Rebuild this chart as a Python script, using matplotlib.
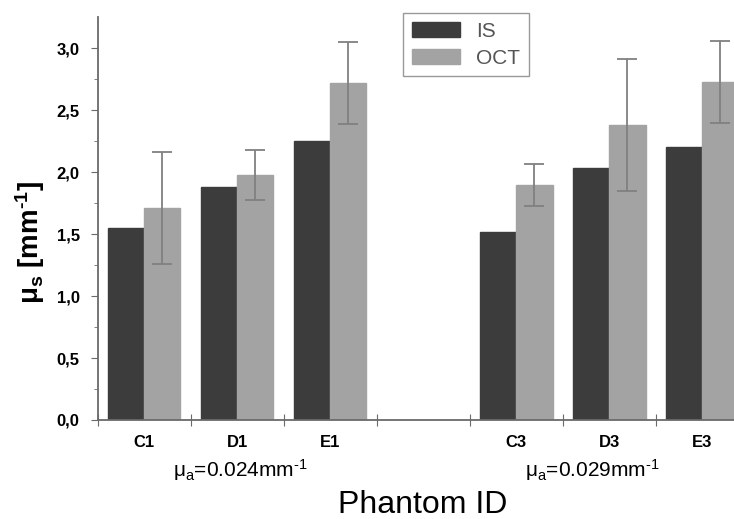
import matplotlib
matplotlib.use('Agg')
import matplotlib.pyplot as plt
import numpy as np

plt.rcParams['font.family'] = ['Liberation Sans', 'DejaVu Sans']
plt.rcParams['mathtext.fontset'] = 'custom'
plt.rcParams['mathtext.rm'] = 'Liberation Sans'
plt.rcParams['mathtext.it'] = 'Liberation Sans'
plt.rcParams['mathtext.bf'] = 'Liberation Sans:bold'
plt.rcParams['mathtext.default'] = 'regular'

# data
phantoms = ['C1', 'D1', 'E1', '', 'C3', 'D3', 'E3']
is_vals = [1.55, 1.88, 2.25, np.nan, 1.52, 2.03, 2.20]
oct_vals = [1.71, 1.975, 2.72, np.nan, 1.895, 2.38, 2.73]
oct_err = [0.45, 0.20, 0.33, np.nan, 0.17, 0.53, 0.33]
y_ticks = [0.0, 0.5, 1.0, 1.5, 2.0, 2.5, 3.0]
y_labels = ['0,0', '0,5', '1,0', '1,5', '2,0', '2,5', '3,0']

fig = plt.figure(figsize=(7.34, 5.19), dpi=100)
ax = fig.add_axes([0.1331, 0.1908, 0.887, 0.776])

x = np.arange(len(phantoms))
w = 0.39
ax.bar(x - w / 2, is_vals, w, color='#3c3c3c', edgecolor='#3c3c3c', label='IS', zorder=2)
ax.bar(x + w / 2, oct_vals, w, color='#a3a3a3', edgecolor='#a3a3a3', label='OCT', zorder=2)
ax.errorbar(x + w / 2, oct_vals, yerr=oct_err, fmt='none', ecolor='#808080',
            elinewidth=1.3, capsize=7, capthick=1.3, zorder=3)

ax.set_xlim(-0.5, 6.5)
ax.set_ylim(0, 3.25)

for s in ['top', 'right']:
    ax.spines[s].set_visible(False)
for s in ['left', 'bottom']:
    ax.spines[s].set_color('#6a6a6a')
    ax.spines[s].set_linewidth(1.3)

ax.set_yticks(y_ticks)
ax.set_yticklabels(y_labels, fontsize=12, fontweight='bold')
ax.set_yticks(np.arange(0.25, 3.25, 0.5), minor=True)
ax.tick_params(axis='y', which='major', direction='out', length=5, pad=8, color='#6a6a6a')
ax.tick_params(axis='y', which='minor', direction='out', length=3, color='#6a6a6a')

ax.set_xticks(np.arange(-0.5, 7, 1.0))
ax.set_xticklabels([])
ax.set_xticks(x, minor=True)
ax.set_xticklabels(phantoms, minor=True, fontsize=12, fontweight='bold')
ax.tick_params(axis='x', which='major', direction='inout', length=9, color='#6a6a6a')
ax.tick_params(axis='x', which='minor', length=0, pad=11)

ax.set_ylabel('$\\mu_s$ [mm$^{\u20101}$]', fontsize=20, fontweight='bold')
ax.yaxis.set_label_coords(-0.078, 0.44)

fig.text(240 / 734, 1 - 470 / 519, '$\\mu_a$=0.024mm$^{\u20101}$', fontsize=15,
         ha='center', va='center')
fig.text(592 / 734, 1 - 470 / 519, '$\\mu_a$=0.029mm$^{\u20101}$', fontsize=15,
         ha='center', va='center')
fig.text(423 / 734, 1 - 505 / 519, 'Phantom ID', fontsize=23, ha='center', va='center')

leg = ax.legend(loc='upper left', bbox_to_anchor=(393 / 734, 1 - 3 / 519),
                bbox_transform=fig.transFigure, fontsize=15, frameon=True,
                fancybox=False, handlelength=2.3, handleheight=0.7,
                borderpad=0.4, labelspacing=0.4, handletextpad=0.8)
leg.get_frame().set_edgecolor('#808080')
leg.get_frame().set_linewidth(1.0)
for t in leg.get_texts():
    t.set_color('#555555')

fig.savefig('out.png', dpi=100)
